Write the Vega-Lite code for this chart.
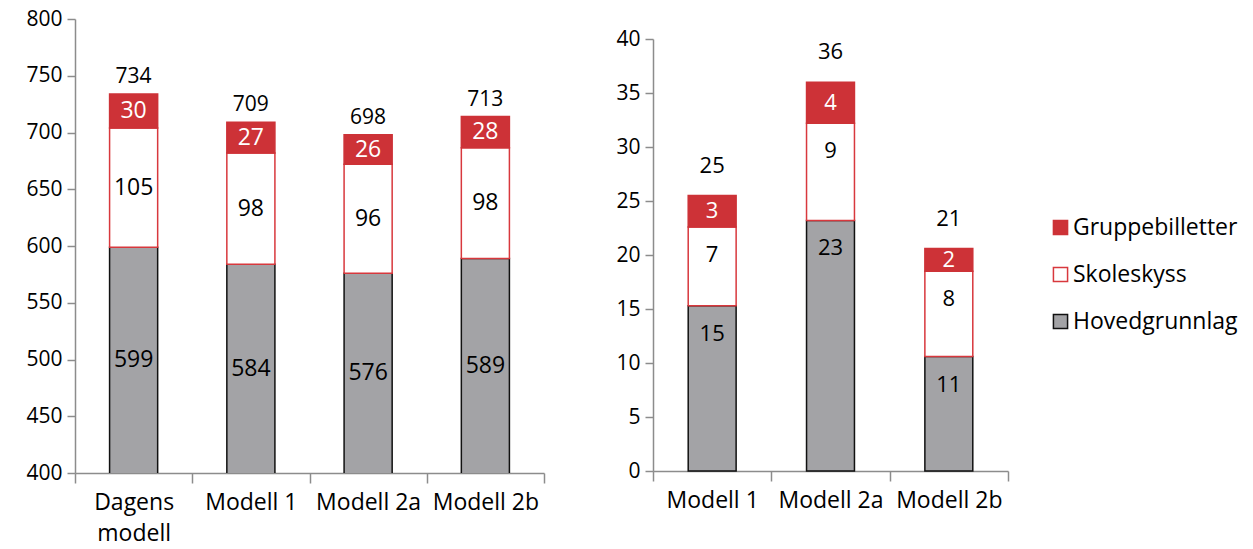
{
  "$schema": "https://vega.github.io/schema/vega-lite/v6.json",
  "padding": {"left": 25, "top": 8, "right": 5, "bottom": 5},
  "background": "white",
  "config": {
    "view": {"stroke": null},
    "font": "Open Sans",
    "axis": {"labelFont": "Open Sans", "labelFontSize": 21, "labelColor": "black", "domainColor": "#8c8c8c", "tickColor": "#8c8c8c", "domainWidth": 1.5, "tickWidth": 1.5, "grid": false, "title": null},
    "legend": {"labelFont": "Open Sans", "labelFontSize": 23, "labelColor": "black", "labelLimit": 400}
  },
  "datasets": {
    "left": [
      {"model": "Dagens modell", "series": "Hovedgrunnlag", "value": 599, "label": "599", "total": "734"},
      {"model": "Dagens modell", "series": "Skoleskyss", "value": 105, "label": "105", "total": "734"},
      {"model": "Dagens modell", "series": "Gruppebilletter", "value": 30, "label": "30", "total": "734"},
      {"model": "Modell 1", "series": "Hovedgrunnlag", "value": 584, "label": "584", "total": "709"},
      {"model": "Modell 1", "series": "Skoleskyss", "value": 98, "label": "98", "total": "709"},
      {"model": "Modell 1", "series": "Gruppebilletter", "value": 27, "label": "27", "total": "709"},
      {"model": "Modell 2a", "series": "Hovedgrunnlag", "value": 576, "label": "576", "total": "698"},
      {"model": "Modell 2a", "series": "Skoleskyss", "value": 96, "label": "96", "total": "698"},
      {"model": "Modell 2a", "series": "Gruppebilletter", "value": 26, "label": "26", "total": "698"},
      {"model": "Modell 2b", "series": "Hovedgrunnlag", "value": 589, "label": "589", "total": "713"},
      {"model": "Modell 2b", "series": "Skoleskyss", "value": 97.5, "label": "98", "total": "713"},
      {"model": "Modell 2b", "series": "Gruppebilletter", "value": 27.5, "label": "28", "total": "713"}
    ],
    "right": [
      {"model": "Modell 1", "series": "Hovedgrunnlag", "value": 15.3, "label": "15", "total": "25"},
      {"model": "Modell 1", "series": "Skoleskyss", "value": 7.3, "label": "7", "total": "25"},
      {"model": "Modell 1", "series": "Gruppebilletter", "value": 2.9, "label": "3", "total": "25"},
      {"model": "Modell 2a", "series": "Hovedgrunnlag", "value": 23.2, "label": "23", "total": "36"},
      {"model": "Modell 2a", "series": "Skoleskyss", "value": 9.0, "label": "9", "total": "36"},
      {"model": "Modell 2a", "series": "Gruppebilletter", "value": 3.8, "label": "4", "total": "36"},
      {"model": "Modell 2b", "series": "Hovedgrunnlag", "value": 10.6, "label": "11", "total": "21"},
      {"model": "Modell 2b", "series": "Skoleskyss", "value": 7.9, "label": "8", "total": "21"},
      {"model": "Modell 2b", "series": "Gruppebilletter", "value": 2.1, "label": "2", "total": "21"}
    ]
  },
  "hconcat": [
    {
      "width": 469,
      "height": 454,
      "data": {"name": "left"},
      "transform": [
        {"calculate": "indexof(['Hovedgrunnlag','Skoleskyss','Gruppebilletter'], datum.series)", "as": "ord"},
        {"stack": "value", "groupby": ["model"], "sort": [{"field": "ord", "order": "ascending"}], "as": ["y0", "y1"]},
        {"calculate": "(max(datum.y0, 400) + datum.y1) / 2", "as": "mid"}
      ],
      "encoding": {
        "x": {"field": "model", "type": "nominal", "sort": ["Dagens modell", "Modell 1", "Modell 2a", "Modell 2b"],
              "scale": {"paddingInner": 0, "paddingOuter": 0},
              "axis": {"labelAngle": 0, "tickBand": "extent", "tickSize": 10, "labelPadding": 8, "labelFontSize": 23,
                       "labelExpr": "datum.value == 'Dagens modell' ? ['Dagens', 'modell'] : datum.label", "labelLineHeight": 31}}
      },
      "layer": [
        {
          "mark": {"type": "bar", "clip": true, "width": {"band": 0.41}, "strokeWidth": 1.5},
          "encoding": {
            "y": {"field": "y1", "type": "quantitative", "scale": {"domain": [400, 800], "nice": false, "zero": false},
                  "axis": {"values": [400, 450, 500, 550, 600, 650, 700, 750, 800], "tickSize": 8, "labelPadding": 5}},
            "y2": {"field": "y0"},
            "fill": {"field": "series", "type": "nominal",
                     "scale": {"domain": ["Gruppebilletter", "Skoleskyss", "Hovedgrunnlag"], "range": ["#CD3237", "#FFFFFF", "#A3A3A6"]},
                     "legend": {"title": null, "orient": "none", "legendX": 974, "legendY": 197, "symbolType": "square", "symbolSize": 200, "symbolStrokeWidth": 1.5, "rowPadding": 23, "labelOffset": 1}},
            "stroke": {"field": "series", "type": "nominal",
                       "scale": {"domain": ["Gruppebilletter", "Skoleskyss", "Hovedgrunnlag"], "range": ["#CD3237", "#D8383D", "#111111"]},
                       "legend": {"title": null, "orient": "none", "legendX": 974, "legendY": 197, "symbolType": "square", "symbolSize": 200, "symbolStrokeWidth": 1.5, "rowPadding": 23, "labelOffset": 1}}
          }
        },
        {
          "mark": {"type": "text", "fontSize": 23, "baseline": "middle"},
          "encoding": {
            "y": {"field": "mid", "type": "quantitative"},
            "text": {"field": "label"},
            "color": {"condition": {"test": "datum.series == 'Gruppebilletter'", "value": "white"}, "value": "black"}
          }
        },
        {
          "transform": [{"filter": "datum.series == 'Gruppebilletter'"}],
          "mark": {"type": "text", "fontSize": 21, "baseline": "middle", "dy": -17, "color": "black"},
          "encoding": {
            "y": {"field": "y1", "type": "quantitative"},
            "text": {"field": "total"}
          }
        }
      ]
    },
    {
      "spacing": 8,
      "vconcat": [
        {
          "width": 355,
          "height": 1,
          "data": {"values": []},
          "mark": "point"
        },
        {
          "width": 355,
          "height": 432,
          "data": {"name": "right"},
          "transform": [
            {"calculate": "indexof(['Hovedgrunnlag','Skoleskyss','Gruppebilletter'], datum.series)", "as": "ord"},
            {"stack": "value", "groupby": ["model"], "sort": [{"field": "ord", "order": "ascending"}], "as": ["y0", "y1"]},
            {"calculate": "(datum.y0 + datum.y1) / 2", "as": "mid"}
          ],
          "encoding": {
            "x": {"field": "model", "type": "nominal", "sort": ["Modell 1", "Modell 2a", "Modell 2b"],
                  "scale": {"paddingInner": 0, "paddingOuter": 0},
                  "axis": {"labelAngle": 0, "tickBand": "extent", "tickSize": 10, "labelPadding": 8, "labelFontSize": 23}}
          },
          "layer": [
            {
              "mark": {"type": "bar", "width": {"band": 0.405}, "strokeWidth": 1.5},
              "encoding": {
                "y": {"field": "y1", "type": "quantitative", "scale": {"domain": [0, 40], "nice": false},
                      "axis": {"values": [0, 5, 10, 15, 20, 25, 30, 35, 40], "tickSize": 8, "labelPadding": 5}},
                "y2": {"field": "y0"},
                "fill": {"field": "series", "type": "nominal"},
                "stroke": {"field": "series", "type": "nominal"}
              }
            },
            {
              "transform": [{"filter": "datum.series == 'Gruppebilletter'"}],
              "mark": {"type": "text", "fontSize": 22, "baseline": "middle", "color": "white"},
              "encoding": {
                "y": {"field": "mid", "type": "quantitative"},
                "text": {"field": "label"}
              }
            },
            {
              "transform": [{"filter": "datum.series != 'Gruppebilletter'"}],
              "mark": {"type": "text", "fontSize": 22, "baseline": "middle", "dy": 28, "color": "black"},
              "encoding": {
                "y": {"field": "y1", "type": "quantitative"},
                "text": {"field": "label"}
              }
            },
            {
              "transform": [{"filter": "datum.series == 'Gruppebilletter'"}],
              "mark": {"type": "text", "fontSize": 22, "baseline": "middle", "dy": -30, "color": "black"},
              "encoding": {
                "y": {"field": "y1", "type": "quantitative"},
                "text": {"field": "total"}
              }
            }
          ]
        }
      ]
    }
  ],
  "spacing": 70
}
